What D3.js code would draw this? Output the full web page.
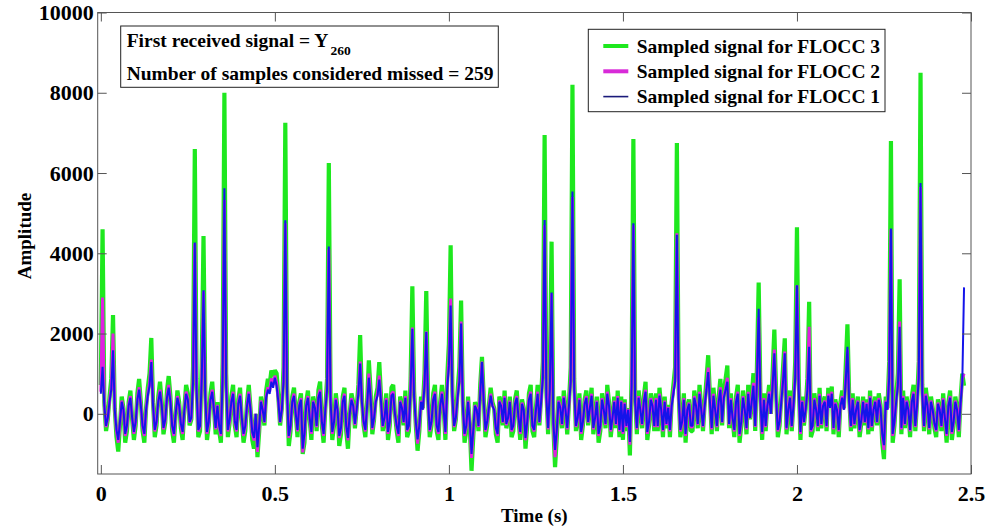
<!DOCTYPE html>
<html>
<head>
<meta charset="utf-8">
<script src="https://cdn.jsdelivr.net/npm/d3@7"></script>
<style>
  body { margin: 0; background: #fff; }
  svg text { font-family: "Liberation Serif", "Times New Roman", serif; font-weight: bold; fill: #000; }
</style>
</head>
<body>
<script>
// sample spacing of the three sampled signals (s)
const sampleStep = 0.005;

const xTicks = [0, 0.5, 1, 1.5, 2, 2.5];
const yTicks = [0, 2000, 4000, 6000, 8000, 10000];

const seriesNames = ["Sampled signal for FLOCC 3", "Sampled signal for FLOCC 2", "Sampled signal for FLOCC 1"];

// FLOCC 1 (blue), one row = 0.1 s
const flocc1 = [
  500, 1170, 200, -300, -100, 300, 600, 1580, 100, -400, -650, -200, 300, 100, -500, -300, 200, 400, -100, -450,
  -200, 350, 600, 200, -300, -500, 100, 450, 700, 1290, 200, -400, -200, 300, 550, 200, -350, -150, 400, 650,
  300, -300, -500, 0, 400, 200, -250, -450, 100, 500, 350, -200, -100, 800, 4270, 600, -400, -300, 900, 3080,
  400, -450, -200, 350, 550, 100, -350, 200, -300, -500, 900, 5620, 700, -400, -150, 300, 500, -200, -400, 250,
  450, -100, -500, -300, 200, 500, 100, -450, -600, 0, -830, -300, 300, 100, -200, 400, 600, 500, 800, 650,
  900, 700, 300, -200, 100, 800, 4820, 500, -550, -300, 300, 450, 0, -400, 200, 350, -870, -500, 200, 400,
  -100, -450, 300, 150, -300, 400, 550, -200, -500, 100, 600, 4170, 300, -450, -200, 350, 100, -550, -350, 300,
  450, -300, -600, 0, 350, 200, -250, 100, 500, 1250, 300, -200, -400, 200, 900, 400, -350, -100, 300, 450,
  850, 300, -300, -100, 350, -450, -200, 450, 500, 0, -300, -500, 300, 150, -200, 400, -400, -300, 600, 2120,
  400, -200, -640, -300, 300, 100, 700, 2040, 300, -400, -200, 350, 500, -300, -450, 200, 500, 100, -450, 600,
  1200, 2700, 400, -300, -100, 400, 800, 2250, 200, -500, -300, 300, -200, -1000, -400, 200, 100, -300, 500, 1290,
  300, -400, -200, 150, 450, 200, 100, -350, -500, 300, 200, -200, 400, -250, -100, 300, -400, -300, 250, 400,
  -100, -450, 250, 100, -600, -200, 350, 500, -300, -400, 100, 500, -200, 300, 900, 4830, 400, -350, 600, 3020,
  -200, -900, -400, 300, 150, -250, 400, 100, -350, 200, 800, 5540, 600, -300, -100, 350, -450, -200, 250, 400,
  -200, 150, 450, -350, -100, 300, -500, -300, 350, 100, -250, 500, 200, -400, -100, 300, -250, 400, -400, 300,
  -450, 250, -300, 100, -700, 700, 4750, 300, -350, 400, 100, -250, 300, 550, -450, -200, 350, 200, -300, 350,
  -300, 450, 100, -400, 300, -250, 150, -400, 200, 500, 800, 4460, 400, -400, -200, 350, -500, 100, 250, -300,
  -300, 400, 200, -250, 500, 100, -300, 200, 600, 1040, 300, -350, 450, 100, -300, 300, 600, -200, 400, 600,
  800, -250, 350, -100, -400, 300, 500, -500, -200, 400, 100, -350, 500, -100, 300, 700, -300, 800, 2620, 300,
  -450, 350, -300, 200, 500, 0, 700, 1510, 400, -400, -200, 300, 800, 1510, -350, 100, 400, -300, 200, 900,
  3200, 600, -450, 300, -200, 100, 600, 1670, -400, -300, 350, 100, -300, 450, -250, 200, 300, -300, 450, 150,
  500, -350, 250, 100, -400, 200, 400, 100, 800, 1670, 300, -300, 350, -250, 100, 300, -400, -150, 300, -200,
  250, -350, 400, -300, 100, 300, -200, 350, 150, -500, -780, 300, 100, 900, 4620, -500, -200, 300, 700, 2170,
  -350, 400, -250, 300, 100, -400, 300, 500, -300, 200, 900, 5750, 500, -300, 450, 200, -350, 300, 100, -250,
  -400, 250, 100, -300, 350, -100, -500, 200, 400, -450, -200, 300, 100, -400, 250, 800, 3150
];

// FLOCC 2 (magenta)
const flocc2 = [
  550, 2900, 220, -330, -110, 330, 660, 2000, 110, -440, -720, -220, 330, 110, -550, -330, 220, 440, -110, -500,
  -220, 390, 660, 220, -330, -550, 110, 500, 770, 1350, 220, -440, -220, 330, 600, 220, -390, -170, 440, 720,
  330, -330, -550, 0, 440, 220, -280, -500, 110, 550, 390, -220, -110, 880, 4250, 660, -440, -330, 990, 3050,
  440, -500, -220, 390, 600, 110, -390, 220, -330, -550, 990, 5330, 770, -440, -170, 330, 550, -220, -440, 280,
  500, -110, -550, -330, 220, 550, 110, -500, -660, 0, -950, -330, 330, 110, -220, 440, 660, 550, 880, 720,
  950, 770, 330, -220, 110, 880, 4750, 550, -600, -330, 330, 500, 0, -440, 220, 390, -960, -550, 220, 440,
  -110, -500, 330, 170, -330, 440, 600, -220, -550, 110, 660, 4100, 330, -500, -220, 390, 110, -600, -390, 330,
  500, -330, -660, 0, 390, 220, -280, 110, 550, 1300, 330, -220, -440, 220, 1000, 440, -390, -110, 330, 500,
  950, 330, -330, -110, 390, -500, -220, 500, 550, 0, -330, -550, 330, 170, -220, 440, -440, -330, 660, 2150,
  440, -220, -740, -330, 330, 110, 770, 2050, 330, -440, -220, 390, 550, -330, -500, 220, 550, 110, -500, 660,
  1320, 2870, 440, -330, -110, 440, 880, 2300, 220, -550, -330, 330, -220, -1100, -440, 220, 110, -330, 550, 1300,
  330, -440, -220, 170, 500, 220, 110, -390, -550, 330, 220, -220, 440, -280, -110, 330, -440, -330, 280, 440,
  -110, -500, 280, 110, -660, -220, 390, 550, -330, -440, 110, 550, -220, 330, 990, 4700, 440, -390, 660, 3000,
  -220, -1080, -440, 330, 170, -280, 440, 110, -390, 220, 880, 5400, 660, -330, -110, 390, -500, -220, 280, 440,
  -220, 170, 500, -390, -110, 330, -550, -330, 390, 110, -280, 550, 220, -440, -110, 330, -280, 440, -440, 330,
  -500, 280, -330, 110, -770, 770, 4700, 330, -390, 440, 110, -280, 330, 600, -500, -220, 390, 220, -330, 390,
  -330, 500, 110, -440, 330, -280, 170, -440, 220, 550, 880, 4500, 440, -440, -220, 390, -550, 110, 280, -330,
  -330, 440, 220, -280, 550, 110, -330, 220, 660, 1150, 330, -390, 500, 110, -330, 330, 660, -220, 440, 660,
  900, -280, 390, -110, -440, 330, 550, -550, -220, 440, 110, -390, 550, -110, 330, 770, -330, 880, 2400, 330,
  -500, 390, -330, 220, 550, 0, 770, 1600, 440, -440, -220, 330, 880, 1550, -390, 110, 440, -330, 220, 990,
  3200, 660, -500, 330, -220, 110, 660, 2170, -440, -330, 390, 110, -330, 500, -280, 220, 330, -330, 500, 170,
  550, -390, 280, 110, -440, 220, 440, 110, 880, 1600, 330, -330, 390, -280, 110, 330, -440, -170, 330, -220,
  280, -390, 440, -330, 110, 330, -220, 390, 170, -550, -900, 330, 110, 990, 4600, -550, -220, 330, 770, 2300,
  -390, 440, -280, 330, 110, -440, 330, 550, -330, 220, 990, 5650, 550, -330, 500, 220, -390, 330, 110, -280,
  -440, 280, 110, -330, 390, -110, -550, 220, 440, -500, -220, 330, 110, -440, 280, 880, 1000
];

// FLOCC 3 (green)
const flocc3 = [
  720, 4600, 290, -430, -140, 430, 870, 2460, 140, -580, -940, -290, 430, 140, -720, -430, 290, 580, -140, -650,
  -290, 510, 870, 290, -430, -720, 140, 650, 1010, 1890, 290, -580, -290, 430, 800, 290, -510, -220, 580, 940,
  430, -430, -720, 0, 580, 290, -360, -650, 140, 720, 510, -290, -140, 1160, 6600, 870, -580, -430, 1300, 4430,
  580, -650, -290, 510, 800, 140, -510, 290, -430, -720, 1300, 8000, 1010, -580, -220, 430, 720, -290, -580, 360,
  650, -140, -720, -430, 290, 720, 140, -650, -870, 0, -1080, -430, 430, 140, -290, 580, 870, 720, 1080, 940,
  1080, 1010, 430, -290, 140, 1160, 7250, 720, -800, -430, 430, 650, 0, -580, 290, 510, -1000, -720, 290, 580,
  -140, -650, 430, 220, -430, 580, 800, -290, -720, 140, 870, 6250, 430, -650, -290, 510, 140, -800, -510, 430,
  650, -430, -870, 0, 510, 290, -360, 140, 720, 1960, 430, -290, -580, 290, 1330, 580, -510, -140, 430, 650,
  1290, 430, -430, -140, 510, -650, -290, 650, 720, 0, -430, -720, 430, 220, -290, 580, -580, -430, 870, 3180,
  580, -290, -920, -430, 430, 140, 1010, 3060, 430, -580, -290, 510, 720, -430, -650, 290, 720, 140, -650, 870,
  1740, 4200, 580, -430, -140, 580, 1160, 2820, 290, -720, -430, 430, -290, -1420, -580, 290, 140, -430, 720, 1420,
  430, -580, -290, 220, 650, 290, 140, -510, -720, 430, 290, -290, 580, -360, -140, 430, -580, -430, 360, 580,
  -140, -650, 360, 140, -870, -290, 510, 720, -430, -580, 140, 720, -290, 430, 1300, 6950, 580, -510, 870, 4290,
  -290, -1330, -580, 430, 220, -360, 580, 140, -510, 290, 1160, 8200, 870, -430, -140, 510, -650, -290, 360, 580,
  -290, 220, 650, -510, -140, 430, -720, -430, 510, 140, -360, 720, 290, -580, -140, 430, -360, 580, -580, 430,
  -650, 360, -430, 140, -1040, 1010, 6850, 430, -510, 580, 140, -360, 430, 800, -650, -290, 510, 290, -430, 510,
  -430, 650, 140, -580, 430, -360, 220, -580, 290, 720, 1160, 6750, 580, -580, -290, 510, -720, 140, 360, -430,
  -430, 580, 290, -360, 720, 140, -430, 290, 870, 1460, 430, -510, 650, 140, -430, 430, 870, -290, 580, 870,
  1200, -360, 510, -140, -580, 430, 720, -720, -290, 580, 140, -510, 720, -140, 430, 1010, -430, 1160, 3270, 430,
  -650, 510, -430, 290, 720, 0, 1010, 2100, 580, -580, -290, 430, 1160, 1880, -510, 140, 580, -430, 290, 1300,
  4650, 870, -650, 430, -290, 140, 870, 2790, -580, -430, 510, 140, -430, 650, -360, 290, 430, -430, 650, 220,
  680, -510, 360, 140, -580, 290, 580, 140, 1160, 2230, 430, -430, 510, -360, 140, 430, -580, -220, 430, -290,
  360, -510, 580, -430, 140, 430, -290, 510, 220, -720, -1130, 430, 140, 1300, 6800, -720, -290, 430, 1010, 3350,
  -510, 580, -360, 430, 140, -580, 430, 720, -430, 290, 1300, 8500, 720, -430, 650, 290, -510, 430, 140, -360,
  -580, 360, 140, -430, 510, -140, -720, 290, 580, -650, -290, 430, 140, -580, 360, 1000, 700
];

const width = 988,
height = 529,
plotLeft = 97.7,
plotRight = 971,
plotTop = 12.5,
plotBottom = 474,
tickLen = 9;

const svg = d3.select("body")
  .append("svg")
  .attr("width", width)
  .attr("height", height);

const x = d3.scaleLinear().domain([-0.009, 2.5]).range([plotLeft, plotRight]);
const y = d3.scaleLinear().domain([-1500, 10000]).range([plotBottom, plotTop]);

svg.append("clipPath")
  .attr("id", "plot-clip")
  .append("rect")
  .attr("x", plotLeft)
  .attr("y", plotTop)
  .attr("width", plotRight - plotLeft)
  .attr("height", plotBottom - plotTop);

const series = [
  {name: seriesNames[0], values: flocc3, color: "#1ee81e", width: 4.2, legendColor: "#1ee81e", legendWidth: 4},
  {name: seriesNames[1], values: flocc2, color: "#e020e0", width: 3, legendColor: "#d82ad8", legendWidth: 4},
  {name: seriesNames[2], values: flocc1, color: "#1414ea", width: 2, legendColor: "#1a1a7a", legendWidth: 1.6}
];

const line = d3.line()
  .x((d, i) => x(i * sampleStep))
  .y(d => y(d));

const linesG = svg.append("g").attr("clip-path", "url(#plot-clip)");
linesG.selectAll("path")
  .data(series)
  .enter()
  .append("path")
  .attr("fill", "none")
  .attr("stroke", d => d.color)
  .attr("stroke-width", d => d.width)
  .attr("stroke-linejoin", "bevel")
  .attr("d", d => line(d.values));

// axes: labelled bottom/left, mirrored ticks on top/right
function styleAxis(g) {
  g.select(".domain").remove();
  g.selectAll(".tick line").attr("stroke", "#555");
  g.selectAll(".tick text")
    .attr("font-size", 22)
    .attr("font-family", "Liberation Serif, Times New Roman, serif")
    .attr("font-weight", "bold")
    .attr("fill", "#000");
}

svg.append("g")
  .attr("transform", `translate(0,${plotBottom})`)
  .call(d3.axisBottom(x).tickValues(xTicks).tickSize(-tickLen).tickPadding(11).tickFormat(d3.format("~g")))
  .call(styleAxis);

svg.append("g")
  .attr("transform", `translate(0,${plotTop})`)
  .call(d3.axisTop(x).tickValues(xTicks).tickSize(-tickLen).tickFormat(""))
  .call(styleAxis);

svg.append("g")
  .attr("transform", `translate(${plotLeft},0)`)
  .call(d3.axisLeft(y).tickValues(yTicks).tickSize(-tickLen).tickPadding(4).tickFormat(d3.format("d")))
  .call(styleAxis);

svg.append("g")
  .attr("transform", `translate(${plotRight},0)`)
  .call(d3.axisRight(y).tickValues(yTicks).tickSize(-tickLen).tickFormat(""))
  .call(styleAxis);

svg.append("rect")
  .attr("x", plotLeft)
  .attr("y", plotTop)
  .attr("width", plotRight - plotLeft)
  .attr("height", plotBottom - plotTop)
  .attr("fill", "none")
  .attr("stroke", "#555")
  .attr("stroke-width", 1);

// axis titles
svg.append("text")
  .attr("x", (plotLeft + plotRight) / 2)
  .attr("y", 522)
  .attr("text-anchor", "middle")
  .attr("font-size", 19)
  .text("Time (s)");

svg.append("text")
  .attr("transform", "translate(31,236) rotate(-90)")
  .attr("text-anchor", "middle")
  .attr("font-size", 19)
  .text("Amplitude");

// info box
const info = svg.append("g");
info.append("rect")
  .attr("x", 120.7)
  .attr("y", 26)
  .attr("width", 377.6)
  .attr("height", 61.3)
  .attr("fill", "#fff")
  .attr("stroke", "#222")
  .attr("stroke-width", 1);

const infoLine1 = info.append("text")
  .attr("x", 126.7)
  .attr("y", 47)
  .attr("font-size", 19.5);
infoLine1.append("tspan").text("First received signal = Y");
infoLine1.append("tspan")
  .attr("font-size", 13.5)
  .attr("dy", 8)
  .attr("dx", 2)
  .text("260");

info.append("text")
  .attr("x", 126.7)
  .attr("y", 79.5)
  .attr("font-size", 19.5)
  .text("Number of samples considered missed = 259");

// legend
const legend = svg.append("g");
legend.append("rect")
  .attr("x", 588.3)
  .attr("y", 29.3)
  .attr("width", 296.7)
  .attr("height", 82.4)
  .attr("fill", "#fff")
  .attr("stroke", "#222")
  .attr("stroke-width", 1);

const legendRows = legend.selectAll("g.row")
  .data(series)
  .enter()
  .append("g")
  .attr("class", "row")
  .attr("transform", (d, i) => `translate(0,${46 + i * 25.3})`);

legendRows.append("line")
  .attr("x1", 603.3)
  .attr("x2", 628.3)
  .attr("stroke", d => d.legendColor)
  .attr("stroke-width", d => d.legendWidth);

legendRows.append("text")
  .attr("x", 636.7)
  .attr("dy", "0.35em")
  .attr("font-size", 19.5)
  .text(d => d.name);
</script>
</body>
</html>
